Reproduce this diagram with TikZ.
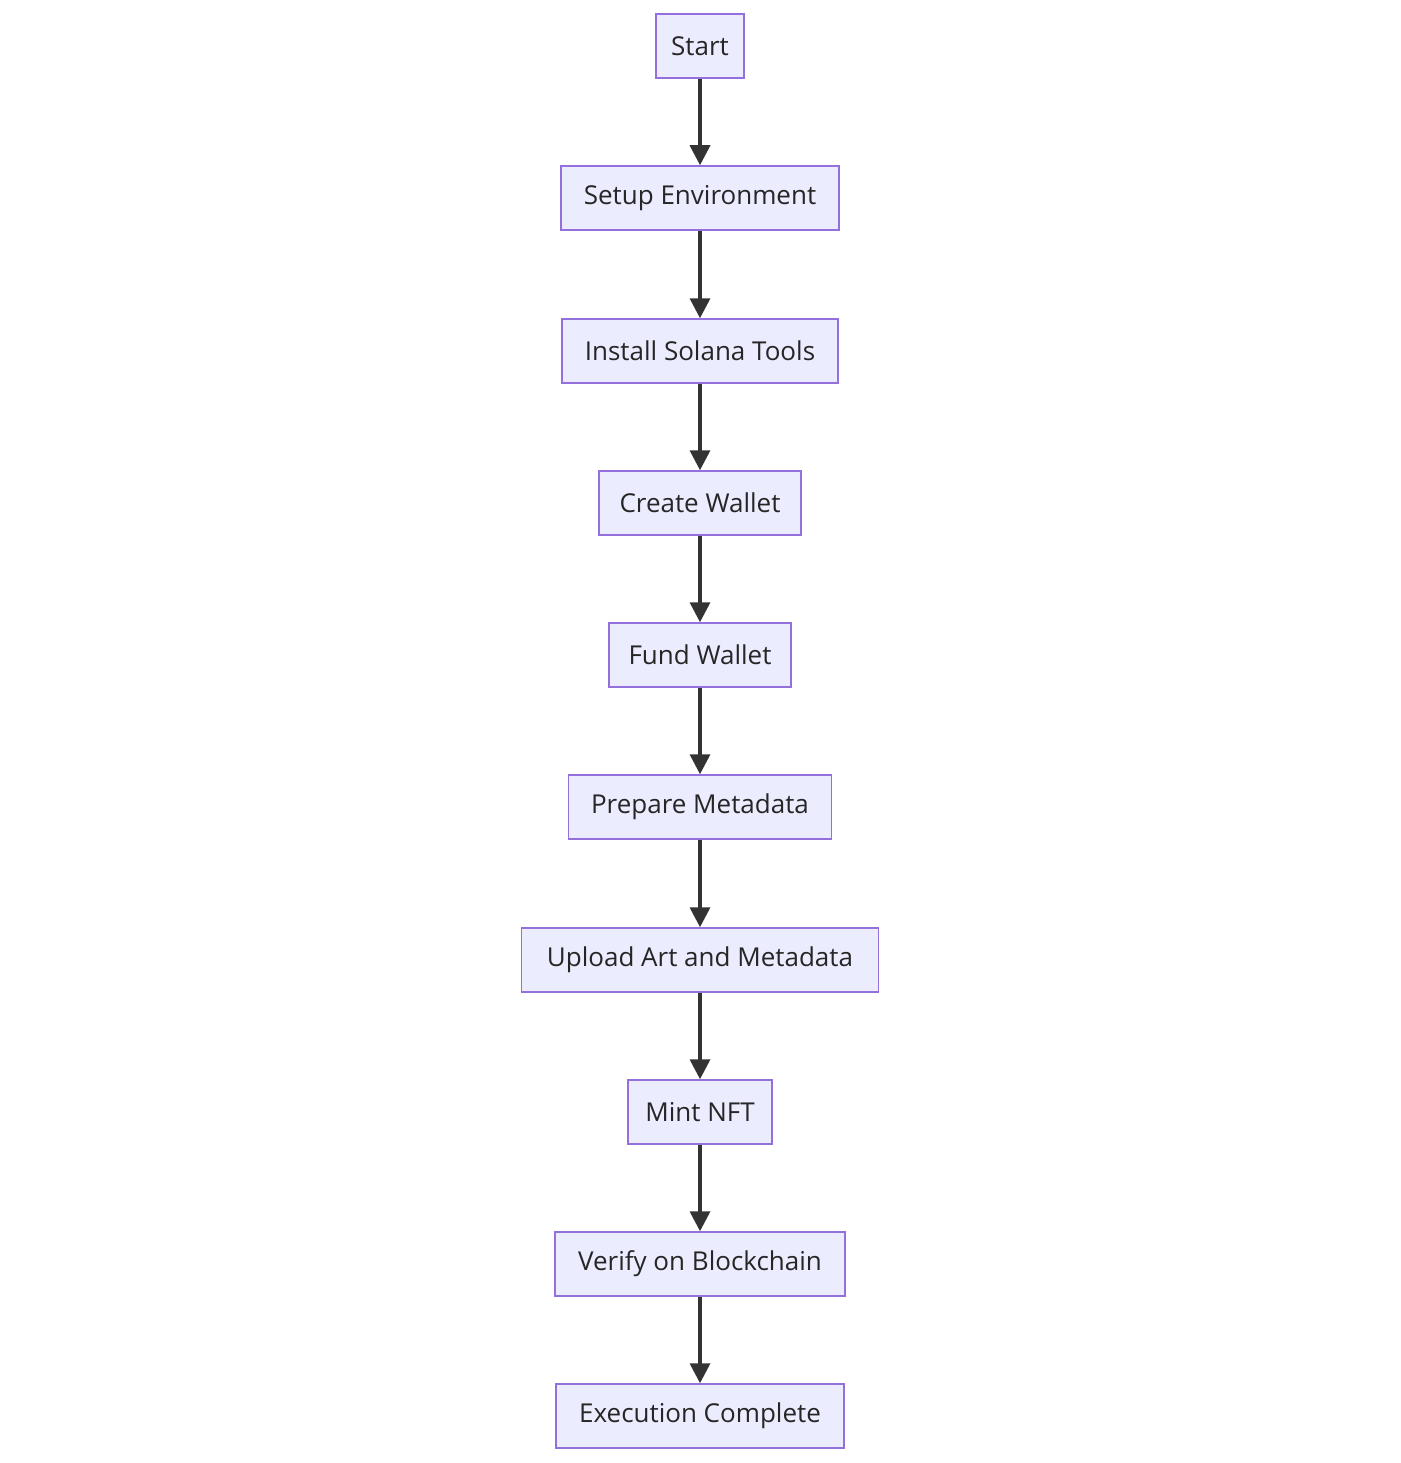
\documentclass[tikz,border=0pt]{standalone}
\usepackage{fontspec}
\setmainfont{Open Sans}
\usetikzlibrary{arrows.meta}
\definecolor{boxfill}{HTML}{ECECFF}
\definecolor{boxline}{HTML}{9370DB}
\definecolor{arr}{HTML}{333333}
\begin{document}
\begin{tikzpicture}[x=1pt,y=-1pt,
  box/.style={draw=boxline,fill=boxfill,line width=1.5pt,minimum height=64pt,inner sep=0pt,font=\fontsize{26}{30}\selectfont,text=black!85},
  conn/.style={draw=arr,line width=3.5pt,-{Triangle[length=20pt,width=20pt]}}]
\useasboundingbox (0,0) rectangle (1400,1463);
\node[box,minimum width=88pt] (n1) at (700,46) {Start};
\node[box,minimum width=278pt] (n2) at (700,198) {Setup Environment};
\node[box,minimum width=276pt] (n3) at (700,351) {Install Solana Tools};
\node[box,minimum width=202pt] (n4) at (700,503) {Create Wallet};
\node[box,minimum width=182pt] (n5) at (700,655) {Fund Wallet};
\node[box,minimum width=263pt] (n6) at (700,807) {Prepare Metadata};
\node[box,minimum width=357pt] (n7) at (700,960) {Upload Art and Metadata};
\node[box,minimum width=144pt] (n8) at (700,1112) {Mint NFT};
\node[box,minimum width=290pt] (n9) at (700,1264) {Verify on Blockchain};
\node[box,minimum width=288pt] (n10) at (700,1416) {Execution Complete};
\foreach \a/\b in {n1/n2,n2/n3,n3/n4,n4/n5,n5/n6,n6/n7,n7/n8,n8/n9,n9/n10}
  \draw[conn] (\a) -- (\b);
\end{tikzpicture}
\end{document}
